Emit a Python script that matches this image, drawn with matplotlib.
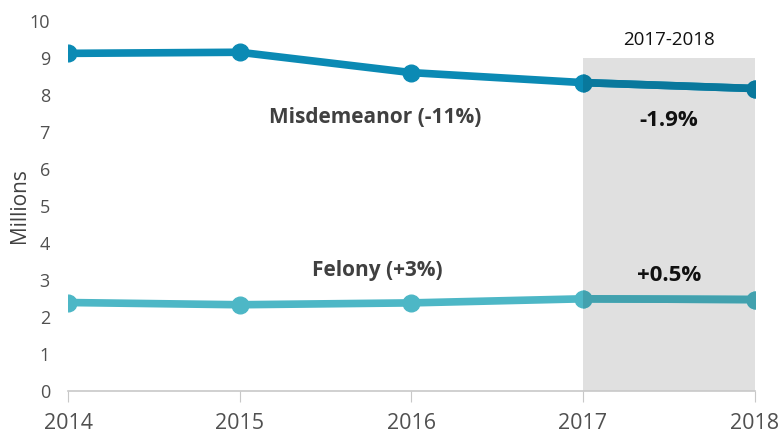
import matplotlib
matplotlib.use("Agg")
import matplotlib.pyplot as plt
from matplotlib.patches import Rectangle

# 数値は図から読み取り（百万件）
years = [2014, 2015, 2016, 2017, 2018]
misdemeanor = [9.12, 9.15, 8.60, 8.33, 8.17]
felony = [2.39, 2.33, 2.38, 2.49, 2.47]
yticks = list(range(0, 11))

plt.rcParams['font.family'] = ['Open Sans', 'DejaVu Sans']

fig = plt.figure(figsize=(7.82, 4.33), dpi=100)
ax = fig.add_axes([0.087, 0.097, 0.878, 0.855])

c_mis = '#0b8ab4'
c_fel = '#4db7c6'
# 網掛けの中では乗算で暗くなったように見える色
c_mis_dk = '#09789c'
c_fel_dk = '#42a1ae'

# 2017-2018 の網掛け
rect = Rectangle((2017, 0), 1, 9.0, facecolor='#e0e0e0', edgecolor='none',
                 zorder=1, clip_on=False)
ax.add_patch(rect)

ax.plot(years, misdemeanor, '-o', color=c_mis, lw=5.5, markersize=12, zorder=3)
ax.plot(years, felony, '-o', color=c_fel, lw=5.5, markersize=12, zorder=3)

# 網掛け内だけ暗い色で重ねる
for vals, c in [(misdemeanor, c_mis_dk), (felony, c_fel_dk)]:
    ln, = ax.plot(years, vals, '-o', color=c, lw=5.5, markersize=12, zorder=4)
    ln.set_clip_path(rect)

ax.text(2017.5, 9.47, '2017-2018', ha='center', va='center', fontsize=13.5, color='#111111')
ax.text(2015.79, 7.4, 'Misdemeanor (-11%)', ha='center', va='center',
        fontsize=15, fontweight='bold', color='#404040', zorder=5)
ax.text(2017.5, 7.3, '-1.9%', ha='center', va='center',
        fontsize=16, fontweight='bold', color='#111111', zorder=5)
ax.text(2015.8, 3.25, 'Felony (+3%)', ha='center', va='center',
        fontsize=15, fontweight='bold', color='#404040', zorder=5)
ax.text(2017.5, 3.12, '+0.5%', ha='center', va='center',
        fontsize=16, fontweight='bold', color='#111111', zorder=5)

ax.set_xlim(2014, 2018)
ax.set_ylim(0, 10)
ax.set_xticks(years)
ax.set_yticks(yticks)
ax.set_ylabel('Millions', fontsize=15, color='#404040')
ax.yaxis.set_label_coords(-0.056, 0.5)

for s in ['top', 'right', 'left']:
    ax.spines[s].set_visible(False)
ax.spines['bottom'].set_color('#c8c8c8')
ax.spines['bottom'].set_linewidth(1.2)
ax.tick_params(axis='x', colors='#c8c8c8', labelcolor='#505050', labelsize=15.5,
               length=8, direction='out', pad=8)
ax.tick_params(axis='y', length=0, labelcolor='#505050', labelsize=13, pad=13)

fig.savefig('out.png', dpi=100)
